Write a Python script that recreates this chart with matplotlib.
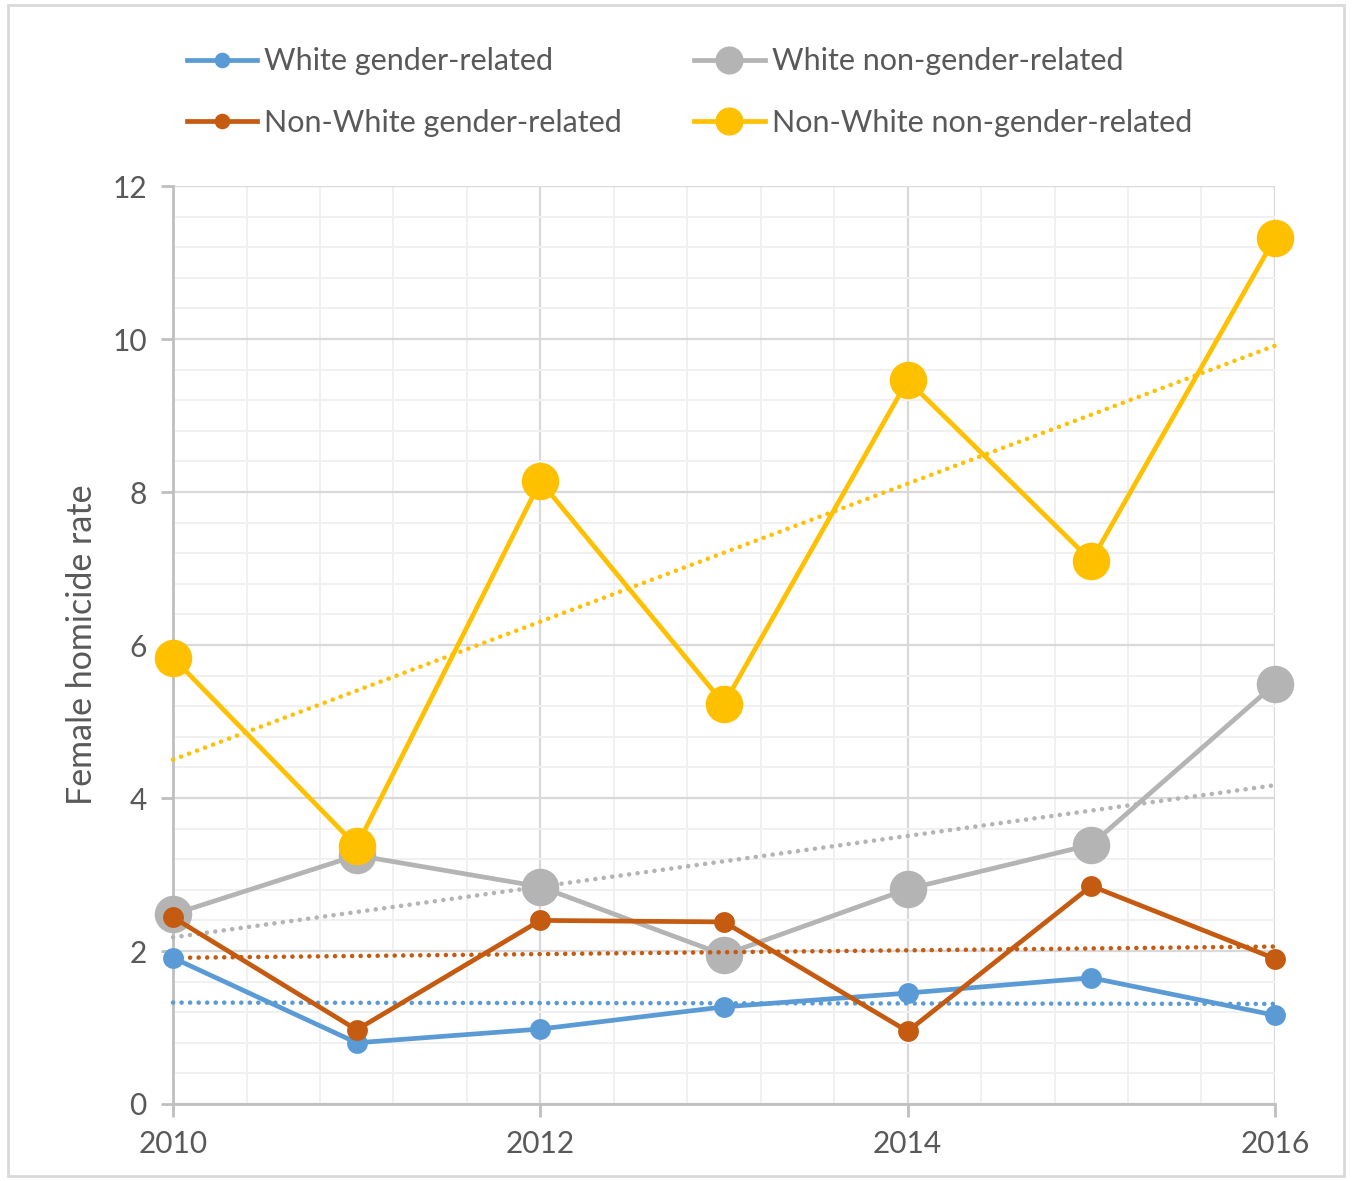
import numpy as np
import matplotlib
matplotlib.use("Agg")
import matplotlib.pyplot as plt
from matplotlib.lines import Line2D
from matplotlib.patches import Rectangle
from matplotlib.ticker import MultipleLocator

years = [2010, 2011, 2012, 2013, 2014, 2015, 2016]
white_gender = [1.91, 0.80, 0.98, 1.27, 1.45, 1.65, 1.16]
white_nongender = [2.48, 3.25, 2.84, 1.95, 2.81, 3.39, 5.49]
nonwhite_gender = [2.44, 0.97, 2.40, 2.38, 0.95, 2.85, 1.90]
nonwhite_nongender = [5.83, 3.37, 8.14, 5.23, 9.46, 7.10, 11.32]
labels = ["White gender-related", "Non-White gender-related",
          "White non-gender-related", "Non-White non-gender-related"]
y_ticks = [0, 2, 4, 6, 8, 10, 12]
x_ticks = [2010, 2012, 2014, 2016]

plt.rcParams['font.family'] = ['Lato', 'DejaVu Sans']
TXT = '#595959'

fig = plt.figure(figsize=(13.52, 11.81), dpi=100)
ax = fig.add_axes([0.128, 0.0652, 0.815, 0.7773])

series = [
    (white_gender, '#5B9BD5', 15, 4),
    (nonwhite_gender, '#C55A11', 15, 5),
    (white_nongender, '#B4B4B4', 27, 3),
    (nonwhite_nongender, '#FFC000', 27, 6),
]
x = np.array(years, dtype=float)
handles = []
for (vals, col, ms, z), lab in zip(series, labels):
    ax.plot(years, vals, color=col, lw=3.4, marker='o', ms=ms,
            markeredgewidth=0, zorder=z, clip_on=False)
    coef = np.polyfit(x, np.array(vals), 1)
    ax.plot(x, np.polyval(coef, x), color=col, lw=3.3,
            linestyle=(0, (0.01, 1.85)), dash_capstyle='round', zorder=3.5,
            clip_on=False)
    handles.append(Line2D([], [], color=col, lw=3.4, marker='o',
                          ms=ms * 0.75, markeredgewidth=0, label=lab))

ax.set_xlim(2010, 2016)
ax.set_ylim(0, 12)
ax.set_xticks(x_ticks)
ax.set_yticks(y_ticks)
ax.xaxis.set_minor_locator(MultipleLocator(0.4))
ax.yaxis.set_minor_locator(MultipleLocator(0.4))
ax.grid(which='major', color='#D9D9D9', lw=1.6, zorder=0)
ax.grid(which='minor', color='#F0F0F0', lw=1.4, zorder=0)
ax.set_axisbelow(True)
for s in ['top', 'right']:
    ax.spines[s].set_visible(False)
for s in ['left', 'bottom']:
    ax.spines[s].set_color('#BFBFBF')
    ax.spines[s].set_linewidth(2)
ax.tick_params(which='major', length=9, width=2, color='#BFBFBF',
               labelsize=21.5, labelcolor=TXT, pad=10)
ax.tick_params(which='minor', length=0)
ax.set_ylabel('Female homicide rate', fontsize=24.5, color=TXT, labelpad=10)

fig.legend(handles=handles, ncol=2, loc='center', bbox_to_anchor=(0.51, 0.922),
           frameon=False, fontsize=22, handlelength=2.3, handletextpad=0.23,
           columnspacing=2.36, labelspacing=1.1, labelcolor=TXT)

fig.add_artist(Rectangle((0.006, 0.004), 0.988, 0.992, transform=fig.transFigure,
                         fill=False, edgecolor='#D9D9D9', lw=2))

fig.savefig('out.png', dpi=100)
